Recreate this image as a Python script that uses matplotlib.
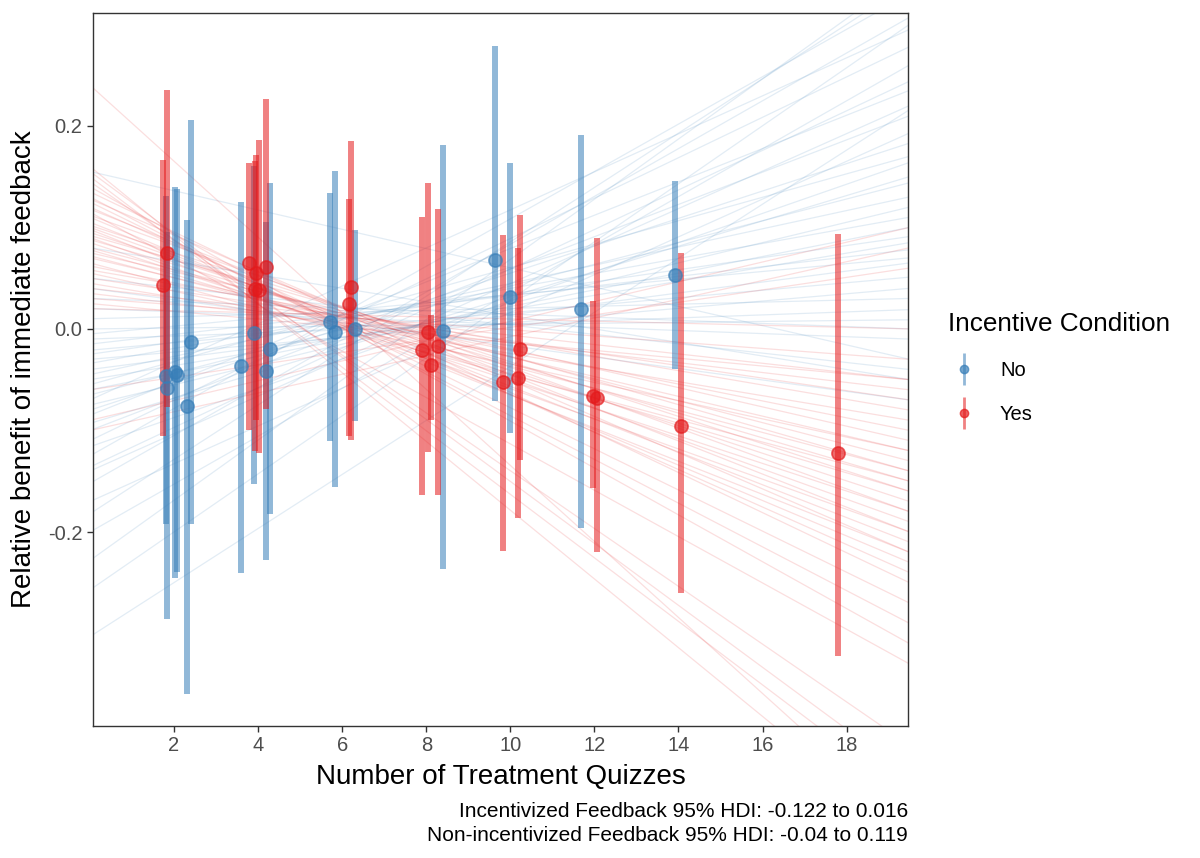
import matplotlib
matplotlib.use('Agg')
import matplotlib.pyplot as plt
from matplotlib.lines import Line2D
from matplotlib.legend_handler import HandlerTuple

plt.rcParams['font.family'] = ['Liberation Sans', 'DejaVu Sans']
plt.rcParams['axes.unicode_minus'] = False

BLUE = '#377EB8'
RED = '#E41A1C'

# non-incentivized ("No")
no_x = [1.81, 1.83, 2.02, 2.08, 2.32, 2.41, 3.59, 3.91, 4.18, 4.28,
        5.70, 5.83, 6.31, 8.41, 9.64, 9.99, 11.67, 13.92]
no_y = [-0.046, -0.058, -0.042, -0.045, -0.076, -0.013, -0.037, -0.004, -0.041, -0.020,
        0.007, -0.003, 0.000, -0.002, 0.068, 0.031, 0.020, 0.053]
no_lo = [-0.192, -0.286, -0.245, -0.239, -0.359, -0.192, -0.240, -0.153, -0.228, -0.182,
         -0.110, -0.156, -0.091, -0.236, -0.071, -0.102, -0.196, -0.039]
no_hi = [0.131, 0.095, 0.140, 0.138, 0.107, 0.206, 0.125, 0.160, 0.105, 0.144,
         0.134, 0.155, 0.097, 0.181, 0.279, 0.163, 0.191, 0.146]

# incentivized ("Yes")
yes_x = [1.73, 1.84, 3.79, 3.93, 3.94, 4.01, 4.18, 6.17, 6.20, 7.91,
         8.05, 8.11, 8.27, 9.83, 10.18, 10.23, 11.97, 12.07, 14.07, 17.80]
yes_y = [0.043, 0.075, 0.065, 0.039, 0.055, 0.038, 0.061, 0.025, 0.041, -0.021,
         -0.003, -0.036, -0.017, -0.052, -0.048, -0.020, -0.066, -0.068, -0.096, -0.122]
yes_lo = [-0.105, -0.077, -0.100, -0.120, -0.090, -0.122, -0.079, -0.105, -0.109, -0.164,
          -0.121, -0.090, -0.164, -0.219, -0.186, -0.129, -0.157, -0.220, -0.260, -0.322]
yes_hi = [0.166, 0.235, 0.163, 0.165, 0.171, 0.186, 0.226, 0.128, 0.185, 0.110,
          0.144, 0.014, 0.118, 0.092, 0.080, 0.112, 0.027, 0.090, 0.075, 0.093]

# posterior regression draws: value at x = 0 and at x = 19.5
no_line_a = [-0.303, -0.257, -0.228, -0.200, -0.182, -0.170, -0.152, -0.140, -0.136, -0.125,
             -0.116, -0.110, -0.100, -0.093, -0.085, -0.080, -0.075, -0.070, -0.065, -0.060,
             -0.055, -0.050, -0.045, -0.040, -0.034, -0.030, -0.025, -0.021, -0.015, -0.010,
             -0.005, 0.000, 0.010, 0.020, 0.030, 0.040, 0.050, 0.080, 0.155]
no_line_b = [0.216, 0.300, 0.350, 0.260, 0.340, 0.193, 0.307, 0.220, 0.244, 0.330,
             0.164, 0.278, 0.210, 0.150, 0.235, 0.183, 0.120, 0.295, 0.144, 0.100,
             0.170, 0.085, 0.130, 0.065, 0.110, 0.040, 0.091, 0.051, 0.078, 0.019,
             0.070, 0.009, 0.030, -0.010, 0.000, -0.070, -0.040, -0.050, -0.030]
yes_line_a = [0.240, 0.160, 0.155, 0.150, 0.145, 0.140, 0.135, 0.130, 0.128, 0.125,
              0.120, 0.118, 0.115, 0.112, 0.110, 0.105, 0.102, 0.100, 0.098, 0.095,
              0.092, 0.090, 0.088, 0.085, 0.080, 0.078, 0.075, 0.072, 0.070, 0.065,
              0.062, 0.058, 0.055, 0.050, 0.045, 0.040, 0.035, 0.030, 0.025, 0.020,
              -0.090, -0.100, -0.060]
yes_line_b = [-0.490, -0.500, -0.440, -0.460, -0.410, -0.310, -0.250, -0.290, -0.220, -0.270,
              -0.240, -0.200, -0.330, -0.180, -0.230, -0.210, -0.160, -0.190, -0.220, -0.170,
              -0.140, -0.200, -0.150, -0.180, -0.130, -0.160, -0.110, -0.140, -0.120, -0.150,
              -0.100, -0.080, -0.120, -0.070, -0.090, -0.050, -0.060, -0.030, -0.050, 0.000,
              0.100, 0.080, 0.060]

x_ticks = [2, 4, 6, 8, 10, 12, 14, 16, 18]
y_ticks = [-0.2, 0.0, 0.2]

fig = plt.figure(figsize=(12, 8.58), dpi=100)
ax = fig.add_axes([0.0775, 0.1538, 0.6792, 0.831])

for a, b in zip(no_line_a, no_line_b):
    ax.axline((0, a), (19.5, b), color=BLUE, alpha=0.14, lw=0.9, zorder=1)
for a, b in zip(yes_line_a, yes_line_b):
    ax.axline((0, a), (19.5, b), color=RED, alpha=0.14, lw=0.9, zorder=1)

ax.vlines(no_x, no_lo, no_hi, color=BLUE, alpha=0.55, lw=4.3, zorder=2)
ax.vlines(yes_x, yes_lo, yes_hi, color=RED, alpha=0.55, lw=4.3, zorder=2)
ax.plot(no_x, no_y, 'o', color=BLUE, alpha=0.65, ms=9.5, mec=BLUE, mew=1.2, zorder=3)
ax.plot(yes_x, yes_y, 'o', color=RED, alpha=0.65, ms=9.5, mec=RED, mew=1.2, zorder=3)

ax.set_xlim(0.073, 19.46)
ax.set_ylim(-0.391, 0.311)
ax.set_xticks(x_ticks)
ax.set_yticks(y_ticks)
ax.set_yticklabels(['-0.2', '0.0', '0.2'])
ax.tick_params(colors='#333333', labelcolor='#4d4d4d', labelsize=14.5, length=4, width=1)
for s in ax.spines.values():
    s.set_color('#333333')
    s.set_linewidth(1)

ax.set_xlabel('Number of Treatment Quizzes', fontsize=20, labelpad=6)
ax.set_ylabel('Relative benefit of immediate feedback', fontsize=20, labelpad=8)

fig.text(0.7567, 0.054, 'Incentivized Feedback 95% HDI: -0.122 to 0.016',
         ha='right', va='center', fontsize=15)
fig.text(0.7567, 0.026, 'Non-incentivized Feedback 95% HDI: -0.04 to 0.119',
         ha='right', va='center', fontsize=15)

handles = []
for c in (BLUE, RED):
    bar = Line2D([], [], ls='none', marker='|', ms=23, mew=2, color=c, alpha=0.55)
    dot = Line2D([], [], ls='none', marker='o', ms=6, color=c, alpha=0.7)
    handles.append((bar, dot))
leg = fig.legend(handles, ['No', 'Yes'], title='Incentive Condition',
                 handler_map={tuple: HandlerTuple(ndivide=1, pad=0)},
                 loc='upper left', bbox_to_anchor=(0.7745, 0.658), frameon=False,
                 fontsize=14.5, title_fontsize=18.8, handlelength=1.6,
                 labelspacing=1.25, handletextpad=1.0)
leg._legend_box.align = 'left'

fig.savefig('out.png', dpi=100)
